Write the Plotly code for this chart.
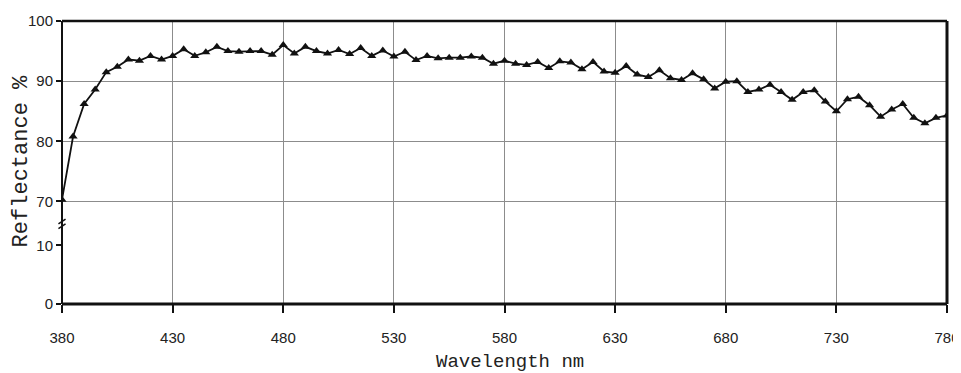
import plotly.graph_objects as go

wavelength = [380, 385, 390, 395, 400, 405, 410, 415, 420, 425,
              430, 435, 440, 445, 450, 455, 460, 465, 470, 475,
              480, 485, 490, 495, 500, 505, 510, 515, 520, 525,
              530, 535, 540, 545, 550, 555, 560, 565, 570, 575,
              580, 585, 590, 595, 600, 605, 610, 615, 620, 625,
              630, 635, 640, 645, 650, 655, 660, 665, 670, 675,
              680, 685, 690, 695, 700, 705, 710, 715, 720, 725,
              730, 735, 740, 745, 750, 755, 760, 765, 770, 775, 780]

reflectance = [70.3, 80.8, 86.2, 88.6, 91.5, 92.4, 93.6, 93.4, 94.2, 93.6,
               94.2, 95.3, 94.2, 94.8, 95.7, 95.0, 94.9, 95.0, 95.0, 94.4,
               96.0, 94.6, 95.7, 95.0, 94.6, 95.2, 94.5, 95.5, 94.2, 95.1,
               94.1, 94.9, 93.5, 94.2, 93.8, 93.9, 93.9, 94.1, 93.9, 92.9,
               93.4, 92.9, 92.7, 93.2, 92.2, 93.3, 93.1, 92.0, 93.2, 91.6,
               91.4, 92.5, 91.1, 90.7, 91.8, 90.5, 90.2, 91.3, 90.3, 88.8,
               89.9, 90.0, 88.2, 88.6, 89.4, 88.2, 86.9, 88.2, 88.5, 86.6,
               85.0, 87.0, 87.4, 86.0, 84.1, 85.3, 86.2, 83.9, 83.0, 83.9, 84.3]

x_ticks = [380, 430, 480, 530, 580, 630, 680, 730, 780]
y_upper_ticks = [70, 80, 90, 100]
y_lower_ticks = [0, 10]

TICK_FONT = dict(family="Liberation Sans Narrow, Arial Narrow, Liberation Sans, sans-serif",
                 size=15, color="#222")
MONO = "Liberation Mono, Courier New, DejaVu Sans Mono, monospace"
GRID = "#8c8c8c"

split = 0.2069  # boundary between lower (0-10) and upper (70-100) panels

fig = go.Figure()
fig.add_trace(go.Scatter(
    x=wavelength, y=reflectance, mode="lines+markers",
    line=dict(color="#111", width=1.8),
    marker=dict(symbol="triangle-up", size=8, color="#111"),
    xaxis="x", yaxis="y", cliponaxis=True, showlegend=False,
))
# empty trace to establish lower panel
fig.add_trace(go.Scatter(x=[], y=[], xaxis="x", yaxis="y2", showlegend=False))

# page body has an 8px margin, so the figure is sized/offset to compensate
fig.update_layout(
    width=953, height=365,
    margin=dict(l=54, r=14, t=13, b=69, autoexpand=False),
    paper_bgcolor="white", plot_bgcolor="white",
    xaxis=dict(range=[380, 780], tickvals=x_ticks, ticktext=[str(v) for v in x_ticks],
               anchor="y2", showgrid=True, gridcolor=GRID, gridwidth=1,
               ticks="outside", ticklen=8, tickwidth=2, tickcolor="#111",
               ticklabelstandoff=12, automargin=False,
               tickfont=TICK_FONT, showline=False, zeroline=False),
    yaxis=dict(domain=[split, 1], range=[62.69, 100], tickvals=y_upper_ticks,
               showgrid=True, gridcolor=GRID, gridwidth=1, automargin=False,
               ticks="outside", ticklen=5, tickwidth=2, tickcolor="#111",
               tickfont=TICK_FONT, showline=False, zeroline=False, anchor="x"),
    yaxis2=dict(domain=[0, split], range=[0, 10], tickvals=y_lower_ticks,
                showgrid=True, gridcolor=GRID, gridwidth=1, automargin=False,
                ticks="outside", ticklen=5, tickwidth=2, tickcolor="#111",
                tickfont=TICK_FONT, showline=False, zeroline=False, anchor="x"),
    annotations=[
        dict(text="Reflectance %", xref="paper", yref="paper", x=-0.046, y=0.505,
             xanchor="center", yanchor="middle", textangle=-90, showarrow=False,
             font=dict(family=MONO, size=22, color="#222")),
        dict(text="Wavelength nm", xref="paper", yref="paper", x=0.506, y=-0.204,
             xanchor="center", yanchor="middle", showarrow=False,
             font=dict(family=MONO, size=19, color="#222")),
    ],
    shapes=[
        # frame
        dict(type="line", xref="paper", yref="paper", x0=0, x1=1, y0=1, y1=1,
             line=dict(color="#111", width=2.5)),
        dict(type="line", xref="paper", yref="paper", x0=0, x1=1, y0=0, y1=0,
             line=dict(color="#111", width=3)),
        dict(type="line", xref="paper", yref="paper", x0=0, x1=0, y0=0, y1=1,
             line=dict(color="#111", width=2)),
        dict(type="line", xref="paper", yref="paper", x0=1, x1=1, y0=0, y1=1,
             line=dict(color="#111", width=3)),
        # axis break marks
        dict(type="path", xref="paper", yref="paper",
             path="M -0.004,0.283 L 0.004,0.300 M -0.004,0.266 L 0.004,0.283",
             line=dict(color="#111", width=1.5)),
    ],
)

fig.write_html("out.html")
